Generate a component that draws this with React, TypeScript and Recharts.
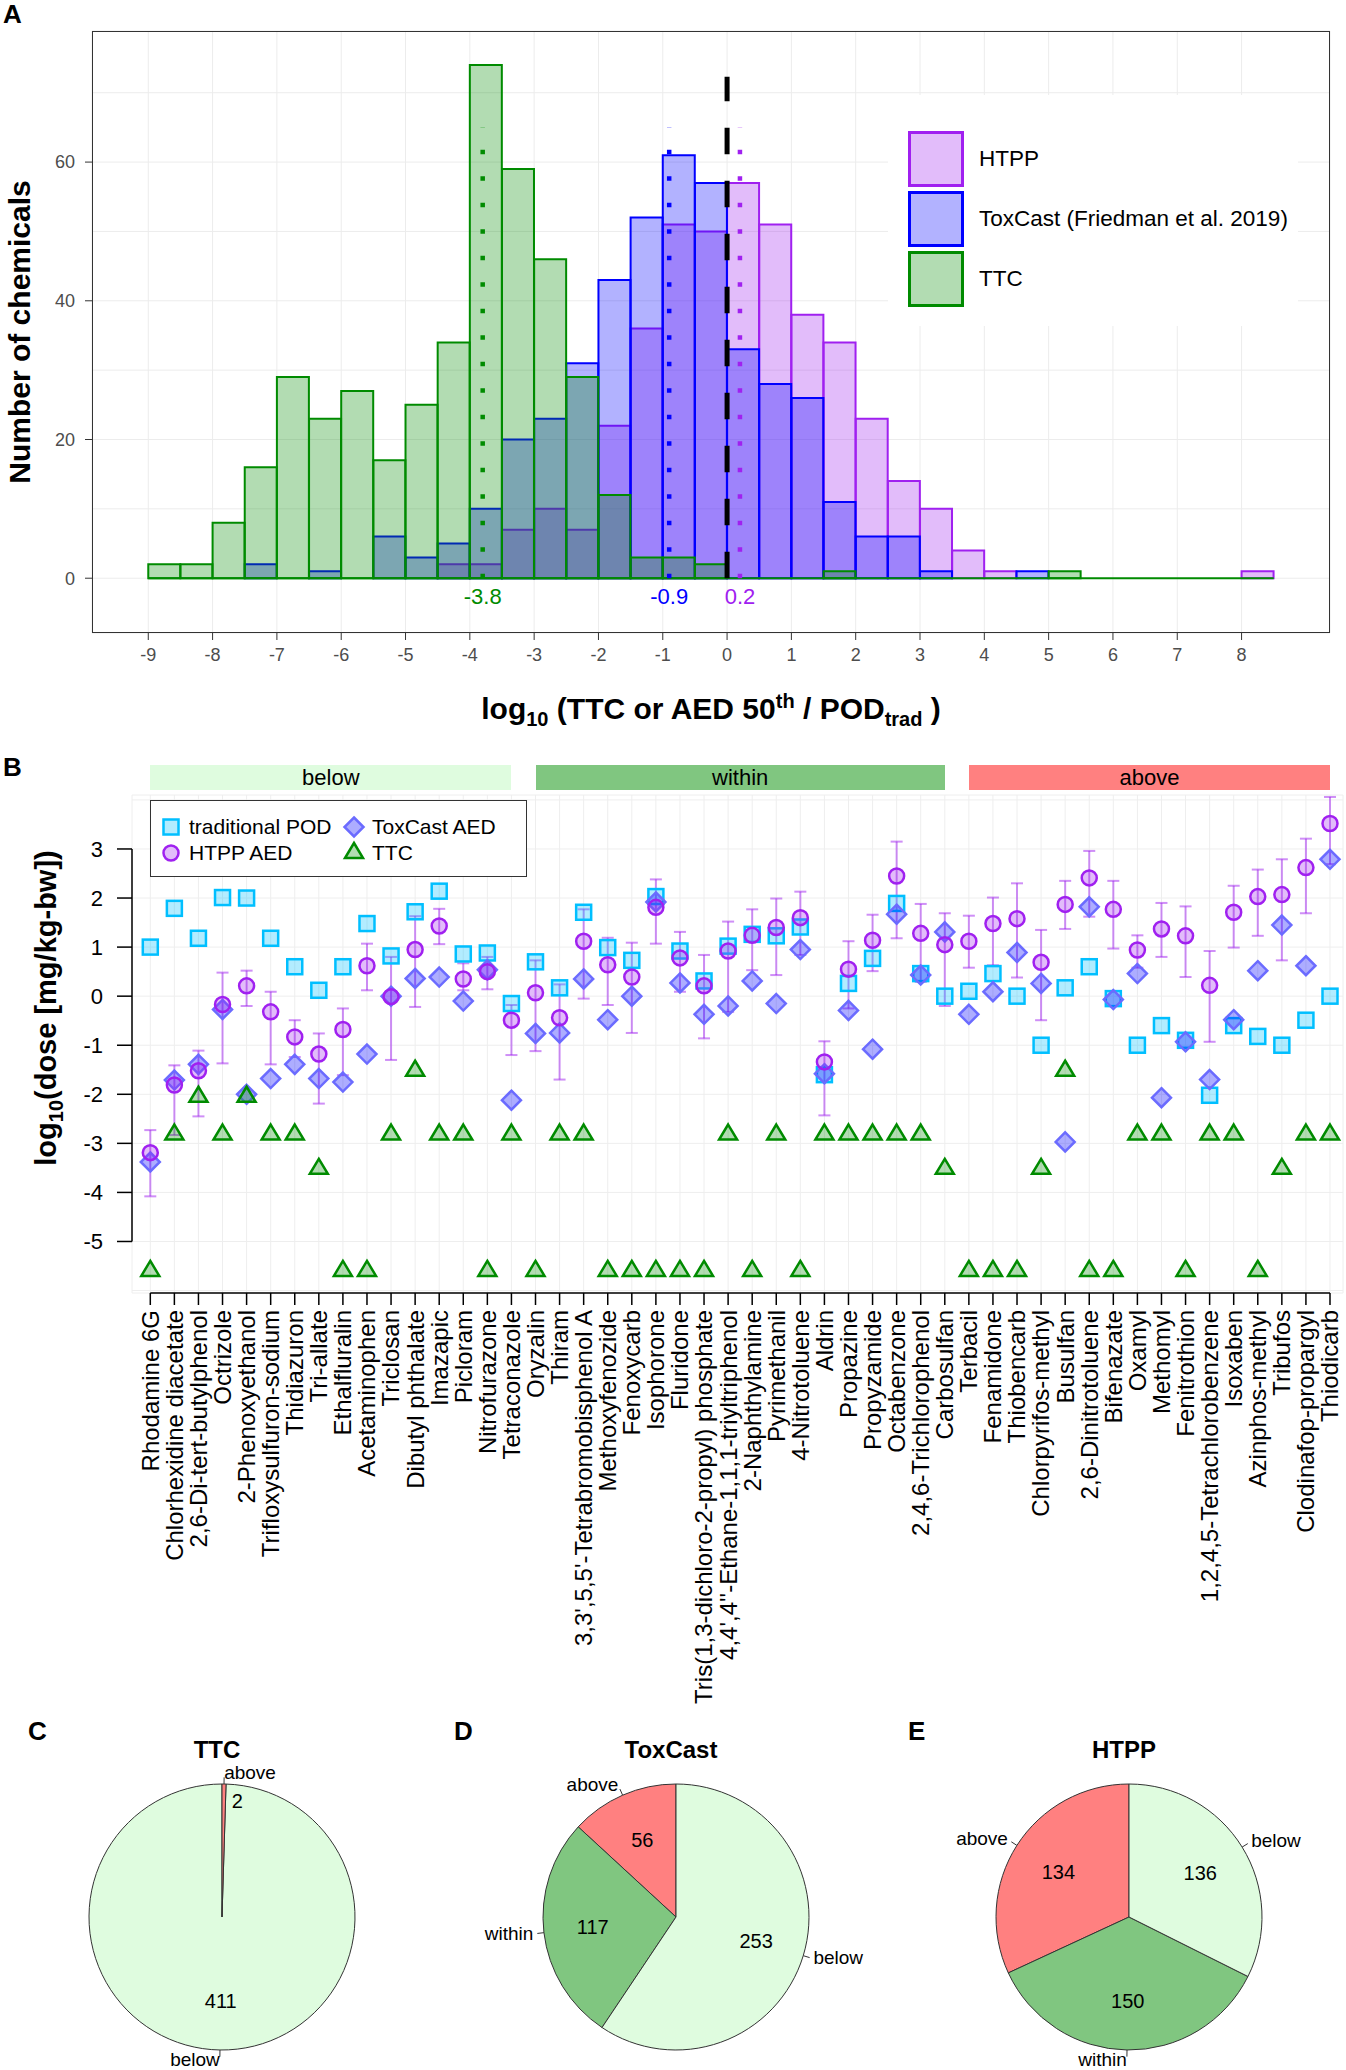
import React from 'react';
import {
  Bar, CartesianGrid, Cell, ComposedChart, ErrorBar, Pie, PieChart,
  ReferenceLine, Scatter, XAxis, YAxis,
} from 'recharts';

const FONT = '"Liberation Sans", Arial, Helvetica, sans-serif';

// ---------- panel A: histogram (bins of 0.5 log units) ----------
const binCenters = [-8.75, -8.25, -7.75, -7.25, -6.75, -6.25, -5.75, -5.25, -4.75, -4.25, -3.75, -3.25, -2.75, -2.25, -1.75, -1.25, -0.75, -0.25, 0.25, 0.75, 1.25, 1.75, 2.25, 2.75, 3.25, 3.75, 4.25, 4.75, 5.25, 5.75, 6.25, 6.75, 7.25, 7.75, 8.25];
const htppCounts = [0, 0, 0, 0, 0, 0, 0, 0, 0, 2, 2, 7, 10, 7, 22, 36, 51, 50, 57, 51, 38, 34, 23, 14, 10, 4, 1, 0, 0, 0, 0, 0, 0, 0, 1];
const toxcastCounts = [0, 0, 0, 2, 0, 1, 0, 6, 3, 5, 10, 20, 23, 31, 43, 52, 61, 57, 33, 28, 26, 11, 6, 6, 1, 0, 0, 1, 0, 0, 0, 0, 0, 0, 0];
const ttcCounts = [2, 2, 8, 16, 29, 23, 27, 17, 25, 34, 74, 59, 46, 29, 12, 3, 3, 2, 0, 0, 0, 1, 0, 0, 0, 0, 0, 0, 1, 0, 0, 0, 0, 0, 0];
const histTicksX = [-9, -8, -7, -6, -5, -4, -3, -2, -1, 0, 1, 2, 3, 4, 5, 6, 7, 8];
const histTicksY = [0, 10, 20, 30, 40, 50, 60, 70];
const medianSeries = ['ttc', 'toxcast', 'htpp'];
const medianValues = [-3.8, -0.9, 0.2];
const legendNames = ['HTPP', 'ToxCast (Friedman et al. 2019)', 'TTC'];
const legendSeries = ['htpp', 'toxcast', 'ttc'];

// ---------- panel B: doses per chemical ----------
const chemicals = [
  'Rhodamine 6G', 'Chlorhexidine diacetate', '2,6-Di-tert-butylphenol', 'Octrizole', '2-Phenoxyethanol',
  'Trifloxysulfuron-sodium', 'Thidiazuron', 'Tri-allate', 'Ethalfluralin', 'Acetaminophen',
  'Triclosan', 'Dibutyl phthalate', 'Imazapic', 'Picloram', 'Nitrofurazone',
  'Tetraconazole', 'Oryzalin', 'Thiram', "3,3',5,5'-Tetrabromobisphenol A", 'Methoxyfenozide',
  'Fenoxycarb', 'Isophorone', 'Fluridone', 'Tris(1,3-dichloro-2-propyl) phosphate', "4,4',4''-Ethane-1,1,1-triyltriphenol",
  '2-Naphthylamine', 'Pyrimethanil', '4-Nitrotoluene', 'Aldrin', 'Propazine',
  'Propyzamide', 'Octabenzone', '2,4,6-Trichlorophenol', 'Carbosulfan', 'Terbacil',
  'Fenamidone', 'Thiobencarb', 'Chlorpyrifos-methyl', 'Busulfan', '2,6-Dinitrotoluene',
  'Bifenazate', 'Oxamyl', 'Methomyl', 'Fenitrothion', '1,2,4,5-Tetrachlorobenzene',
  'Isoxaben', 'Azinphos-methyl', 'Tribufos', 'Clodinafop-propargyl', 'Thiodicarb',
];
const podValues = [1.0, 1.79, 1.18, 2.01, 2.0, 1.18, 0.6, 0.12, 0.6, 1.48, 0.82, 1.72, 2.14, 0.86, 0.88, -0.15, 0.7, 0.17, 1.71, 0.99, 0.73, 2.03, 0.92, 0.31, 1.02, 1.26, 1.23, 1.41, -1.6, 0.26, 0.77, 1.89, 0.46, 0.0, 0.1, 0.46, 0.0, -1.0, 0.17, 0.6, -0.05, -1.0, -0.6, -0.9, -2.02, -0.6, -0.82, -1.0, -0.49, 0.0];
const htppAed = [-3.19, -1.81, -1.52, -0.17, 0.21, -0.32, -0.83, -1.18, -0.68, 0.62, -0.01, 0.95, 1.43, 0.35, 0.5, -0.49, 0.07, -0.44, 1.12, 0.64, 0.39, 1.81, 0.78, 0.21, 0.92, 1.24, 1.4, 1.6, -1.34, 0.55, 1.14, 2.45, 1.28, 1.05, 1.12, 1.48, 1.58, 0.69, 1.87, 2.41, 1.77, 0.94, 1.37, 1.23, 0.22, 1.71, 2.03, 2.07, 2.62, 3.52];
const htppLow = [-4.08, -2.83, -2.45, -1.37, -0.2, -1.39, -1.24, -2.19, -1.61, 0.12, -1.3, -0.22, 1.06, 0.12, 0.14, -1.2, -1.12, -1.7, -0.05, -0.18, -0.75, 1.07, 0.09, -0.86, -0.32, 0.53, 0.43, 0.84, -2.43, -0.25, 0.51, 1.18, 0.29, -0.2, 0.58, 0.63, 0.38, -0.49, 1.37, 1.62, 0.97, 0.58, 0.8, 0.39, -0.93, 0.99, 1.23, 0.73, 1.69, 2.69];
const htppHigh = [-2.73, -1.41, -1.11, 0.48, 0.52, 0.09, -0.49, -0.76, -0.25, 1.07, 0.8, 1.63, 1.78, 0.67, 0.8, -0.18, 0.73, 0.24, 1.77, 1.19, 1.09, 2.38, 1.31, 0.84, 1.52, 1.77, 1.99, 2.13, -0.92, 1.12, 1.66, 3.15, 1.88, 1.69, 1.64, 2.01, 2.3, 1.35, 2.35, 2.96, 2.35, 1.24, 1.9, 1.83, 0.92, 2.25, 2.58, 2.79, 3.21, 4.06];
const toxcastAed = [-3.38, -1.71, -1.39, -0.27, -2.0, -1.68, -1.39, -1.68, -1.75, -1.18, 0.0, 0.36, 0.39, -0.1, 0.54, -2.12, -0.76, -0.75, 0.35, -0.48, 0.0, 1.92, 0.27, -0.37, -0.2, 0.31, -0.15, 0.95, -1.58, -0.29, -1.08, 1.67, 0.43, 1.31, -0.37, 0.09, 0.89, 0.26, -2.97, 1.82, -0.07, 0.46, -2.07, -0.93, -1.7, -0.48, 0.52, 1.45, 0.62, 2.79];
const ttcValues = [-5.6, -2.82, -2.05, -2.82, -2.05, -2.82, -2.82, -3.52, -5.6, -5.6, -2.82, -1.52, -2.82, -2.82, -5.6, -2.82, -5.6, -2.82, -2.82, -5.6, -5.6, -5.6, -5.6, -5.6, -2.82, -5.6, -2.82, -5.6, -2.82, -2.82, -2.82, -2.82, -2.82, -3.52, -5.6, -5.6, -5.6, -3.52, -1.52, -5.6, -5.6, -2.82, -2.82, -5.6, -2.82, -2.82, -5.6, -3.52, -2.82, -2.82];
const groupLabels = ['below', 'within', 'above'];
const groupSizes = [16, 18, 16];
const doseTicksY = [-6, -5, -4, -3, -2, -1, 0, 1, 2, 3, 4];

// ---------- panels C-E: pies ----------
const pieLetters = ['C', 'D', 'E'];
const pieTitles = ['TTC', 'ToxCast', 'HTPP'];
const ttcPie = [{ name: 'below', value: 411 }, { name: 'above', value: 2 }];
const toxcastPie = [{ name: 'above', value: 56 }, { name: 'within', value: 117 }, { name: 'below', value: 253 }];
const htppPie = [{ name: 'above', value: 134 }, { name: 'within', value: 150 }, { name: 'below', value: 136 }];

const COL: Record<string, string> = { htpp: '#A020F0', toxcast: '#0000FF', ttc: '#008B00', pod: '#00BFFF' };
const GROUP_FILL: Record<string, string> = { below: '#DFFCDF', within: '#80C680', above: '#FF8080' };

const HistYTick = (p: any) => {
  const v = p.payload.value;
  if (v % 20 !== 0) return null;
  return (
    <g>
      <line x1={p.x + 10} x2={p.x + 17} y1={p.y} y2={p.y} stroke="#333" />
      <text x={p.x} y={p.y} dy="0.35em" textAnchor="end" fontSize={18} fill="#4d4d4d">{v}</text>
    </g>
  );
};

function HistogramPanel() {
  const rows = binCenters.map((x, i) => ({ x, htpp: htppCounts[i], toxcast: toxcastCounts[i], ttc: ttcCounts[i] }));
  const dom: [number, number] = [-9.875, 9.375];
  const lo = binCenters[0] - 0.25;
  const hi = binCenters[binCenters.length - 1] + 0.25;
  return (
    <div style={{ position: 'absolute', left: 0, top: 0 }}>
      <ComposedChart width={1346} height={760} data={rows} margin={{ top: 31, right: 16, bottom: 87, left: 42 }} barCategoryGap={0} barGap={0}>
        <CartesianGrid xAxisId="h" stroke="#ececec" />
        <XAxis xAxisId="h" dataKey="x" type="number" domain={dom} allowDataOverflow ticks={histTicksX} interval={0}
          height={40} tickSize={7} tickMargin={8} axisLine={false} tickLine={{ stroke: '#333' }}
          tick={{ fill: '#4d4d4d', fontSize: 18 }} />
        <XAxis xAxisId="t" dataKey="x" type="number" domain={dom} allowDataOverflow hide height={0} />
        <XAxis xAxisId="c" dataKey="x" type="number" domain={dom} allowDataOverflow hide height={0} />
        <YAxis type="number" domain={[-7.9, 78.9]} allowDataOverflow ticks={histTicksY} interval={0} width={50}
          tickSize={7} tickMargin={10} axisLine={false} tickLine={false} tick={(p: any) => <HistYTick {...p} />} />
        <Bar xAxisId="h" dataKey="htpp" fill={COL.htpp} fillOpacity={0.3} stroke={COL.htpp} strokeWidth={2} isAnimationActive={false} />
        <Bar xAxisId="t" dataKey="toxcast" fill={COL.toxcast} fillOpacity={0.3} stroke={COL.toxcast} strokeWidth={2} isAnimationActive={false} />
        <Bar xAxisId="c" dataKey="ttc" fill={COL.ttc} fillOpacity={0.3} stroke={COL.ttc} strokeWidth={2} isAnimationActive={false} />
        <ReferenceLine xAxisId="c" segment={[{ x: lo, y: 0 }, { x: hi, y: 0 }]} stroke={COL.ttc} strokeWidth={2} ifOverflow="visible" />
        {medianValues.map((m, i) => (
          <ReferenceLine key={medianSeries[i]} xAxisId="h" segment={[{ x: m, y: 0 }, { x: m, y: 65 }]}
            stroke={COL[medianSeries[i]]} strokeWidth={4.5} strokeDasharray="4.5 22"
            label={{ value: String(m), position: 'bottom', offset: 10, fill: COL[medianSeries[i]], fontSize: 22 }} />
        ))}
        <ReferenceLine xAxisId="h" segment={[{ x: 0, y: 0 }, { x: 0, y: 72.3 }]} stroke="#000" strokeWidth={5} strokeDasharray="26.5 26.5" />
      </ComposedChart>
      <div style={{ position: 'absolute', left: 92, top: 31, width: 1238, height: 602, border: '1.5px solid #333', boxSizing: 'border-box', pointerEvents: 'none' }} />
      <div style={{ position: 'absolute', left: 888, top: 95, width: 410, height: 231, background: '#fff' }}>
        {legendSeries.map((s, i) => (
          <div key={s}>
            <div style={{ position: 'absolute', left: 20, top: 36 + i * 60, width: 56, height: 56, boxSizing: 'border-box', border: `3px solid ${COL[s]}`, background: COL[s] + '4D' }} />
            <div style={{ position: 'absolute', left: 91, top: 36 + i * 60, height: 56, lineHeight: '56px', fontSize: 22.5, whiteSpace: 'nowrap' }}>{legendNames[i]}</div>
          </div>
        ))}
      </div>
      <div style={{ position: 'absolute', left: 3, top: 1, fontSize: 26, lineHeight: '26px', fontWeight: 'bold' }}>A</div>
      <div style={{ position: 'absolute', left: 92, width: 1238, top: 690, textAlign: 'center', fontSize: 30, fontWeight: 'bold', whiteSpace: 'nowrap' }}>
        log<sub style={{ fontSize: 20 }}>10</sub> (TTC or AED 50<sup style={{ fontSize: 20 }}>th</sup> / POD<sub style={{ fontSize: 20 }}>trad</sub> )
      </div>
      <div style={{ position: 'absolute', left: 20, top: 332, transform: 'translate(-50%, -50%) rotate(-90deg)', fontSize: 30, fontWeight: 'bold', whiteSpace: 'nowrap' }}>
        Number of chemicals
      </div>
    </div>
  );
}

// B geometry
const B_TOP = 700;
const B_LEFT = 132;
const B_WIDTH = 1211;
const B_DOM: [number, number] = [0.24, 50.54];
const bPx = (v: number) => B_LEFT + (v - B_DOM[0]) * B_WIDTH / (B_DOM[1] - B_DOM[0]);

const DoseYTick = (p: any) => {
  const v = p.payload.value;
  if (v < -5 || v > 3) return null;
  return (
    <g>
      <line x1={p.x + 14} x2={p.x + 29} y1={p.y} y2={p.y} stroke="#000" strokeWidth={1.5} />
      <text x={p.x} y={p.y} dy="0.35em" textAnchor="end" fontSize={22} fill="#000">{v}</text>
    </g>
  );
};

const DoseXTick = (p: any) => {
  const name = chemicals[p.payload.value - 1];
  return (
    <g>
      <line x1={p.x} x2={p.x} y1={p.y - 17} y2={p.y - 5} stroke="#000" strokeWidth={1.5} />
      <text x={p.x} y={p.y} dy="0.35em" textAnchor="end" fontSize={24} fill="#000" transform={`rotate(-90 ${p.x} ${p.y})`}>{name}</text>
    </g>
  );
};

const squareShape = (p: any) => (
  <rect x={p.cx - 7.5} y={p.cy - 7.5} width={15} height={15} fill={COL.pod} fillOpacity={0.3} stroke={COL.pod} strokeWidth={2.5} />
);
const circleShape = (p: any) => (
  <circle cx={p.cx} cy={p.cy} r={7.5} fill={COL.htpp} fillOpacity={0.3} stroke={COL.htpp} strokeWidth={2.5} />
);
const diamondShape = (p: any) => (
  <path d={`M${p.cx},${p.cy - 9.5}L${p.cx + 9.5},${p.cy}L${p.cx},${p.cy + 9.5}L${p.cx - 9.5},${p.cy}Z`} fill={COL.toxcast} fillOpacity={0.32} stroke="#6b6bff" strokeWidth={2.5} />
);
const triangleShape = (p: any) => (
  <path d={`M${p.cx},${p.cy - 10}L${p.cx + 9},${p.cy + 5}L${p.cx - 9},${p.cy + 5}Z`} fill={COL.ttc} fillOpacity={0.3} stroke={COL.ttc} strokeWidth={2.5} strokeLinejoin="miter" />
);

function DosePanel() {
  const rows = chemicals.map((name, i) => ({
    idx: i + 1,
    name,
    pod: podValues[i],
    htpp: htppAed[i],
    htppErr: [htppAed[i] - htppLow[i], htppHigh[i] - htppAed[i]],
    toxcast: toxcastAed[i],
    ttc: ttcValues[i],
  }));
  const idxTicks = chemicals.map((_, i) => i + 1);
  let start = 1;
  const strips = groupLabels.map((g, i) => {
    const first = start;
    const last = start + groupSizes[i] - 1;
    start = last + 1;
    return { g, left: bPx(first), right: bPx(last) };
  });
  const marker = (kind: string) => {
    const shapes: Record<string, any> = { pod: squareShape, htpp: circleShape, toxcast: diamondShape, ttc: triangleShape };
    return <svg width={26} height={26} style={{ position: 'absolute', left: -13, top: -13 }}>{shapes[kind]({ cx: 13, cy: 13 })}</svg>;
  };
  const legendItems = [
    { kind: 'pod', text: 'traditional POD', x: 20, y: 26 },
    { kind: 'htpp', text: 'HTPP AED', x: 20, y: 52 },
    { kind: 'toxcast', text: 'ToxCast AED', x: 203, y: 26 },
    { kind: 'ttc', text: 'TTC', x: 203, y: 52 },
  ];
  return (
    <div style={{ position: 'absolute', left: 0, top: B_TOP }}>
      <ComposedChart width={1346} height={1060} data={rows} margin={{ top: 95, right: 3, bottom: 7, left: 72 }}>
        <CartesianGrid stroke="#eeeeee" />
        <XAxis dataKey="idx" type="number" domain={B_DOM} allowDataOverflow ticks={idxTicks} interval={0} height={460}
          tickSize={12} tickMargin={5} axisLine={false} tickLine={false} tick={(p: any) => <DoseXTick {...p} />} />
        <YAxis type="number" domain={[-6.05, 4.1]} allowDataOverflow ticks={doseTicksY} interval={0} width={60}
          tickSize={15} tickMargin={14} axisLine={false} tickLine={false} tick={(p: any) => <DoseYTick {...p} />} />
        <ReferenceLine segment={[{ x: B_DOM[0], y: -5 }, { x: B_DOM[0], y: 3 }]} stroke="#000" strokeWidth={1.5} ifOverflow="visible" />
        <ReferenceLine segment={[{ x: 1, y: -6.05 }, { x: chemicals.length, y: -6.05 }]} stroke="#000" strokeWidth={1.5} ifOverflow="visible" />
        <Scatter dataKey="pod" shape={squareShape} isAnimationActive={false} />
        <Scatter dataKey="toxcast" shape={diamondShape} isAnimationActive={false} />
        <Scatter dataKey="htpp" shape={circleShape} isAnimationActive={false}>
          <ErrorBar dataKey="htppErr" direction="y" width={6} stroke={COL.htpp} strokeOpacity={0.5} strokeWidth={2} />
        </Scatter>
        <Scatter dataKey="ttc" shape={triangleShape} isAnimationActive={false} />
      </ComposedChart>
      {strips.map((s) => (
        <div key={s.g} style={{ position: 'absolute', left: s.left, top: 65, width: s.right - s.left, height: 25, background: GROUP_FILL[s.g], textAlign: 'center', lineHeight: '25px', fontSize: 22 }}>{s.g}</div>
      ))}
      <div style={{ position: 'absolute', left: 150, top: 100, width: 377, height: 77, border: '1.5px solid #333', boxSizing: 'border-box', background: '#fff' }}>
        {legendItems.map((it) => (
          <div key={it.kind}>
            <div style={{ position: 'absolute', left: it.x, top: it.y }}>{marker(it.kind)}</div>
            <div style={{ position: 'absolute', left: it.x + 18, top: it.y - 13, height: 26, lineHeight: '26px', fontSize: 21, whiteSpace: 'nowrap' }}>{it.text}</div>
          </div>
        ))}
      </div>
      <div style={{ position: 'absolute', left: 3, top: 54, fontSize: 26, lineHeight: '26px', fontWeight: 'bold' }}>B</div>
      <div style={{ position: 'absolute', left: 49, top: 308, transform: 'translate(-50%, -50%) rotate(-90deg)', fontSize: 29, fontWeight: 'bold', whiteSpace: 'nowrap' }}>
        log<sub style={{ fontSize: 20 }}>10</sub>(dose [mg/kg-bw])
      </div>
    </div>
  );
}

const RAD = Math.PI / 180;
const renderPieLabel = (p: any) => {
  const a = -p.midAngle * RAD;
  const small = p.percent < 0.05;
  const rIn = p.outerRadius * (small ? 0.87 : 0.63);
  const xi = p.cx + rIn * Math.cos(a) + (small ? 8 : 0);
  const yi = p.cy + rIn * Math.sin(a);
  const x1 = p.cx + p.outerRadius * Math.cos(a);
  const y1 = p.cy + p.outerRadius * Math.sin(a);
  const x2 = p.cx + p.outerRadius * 1.05 * Math.cos(a);
  const y2 = p.cy + p.outerRadius * 1.05 * Math.sin(a);
  const xo = p.cx + p.outerRadius * 1.08 * Math.cos(a);
  const yo = p.cy + p.outerRadius * 1.08 * Math.sin(a);
  return (
    <g>
      <text x={xi} y={yi} dy="0.35em" textAnchor={small ? 'start' : 'middle'} fontSize={20} fill="#000">{p.value}</text>
      <line x1={x1} y1={y1} x2={x2} y2={y2} stroke="#333" strokeWidth={1} />
      <text x={xo} y={yo} dy="0.3em" textAnchor={Math.cos(a) >= 0 ? 'start' : 'end'} fontSize={19} fill="#000">{p.name}</text>
    </g>
  );
};

function PiePanels() {
  const pies = [ttcPie, toxcastPie, htppPie];
  const centers = [217, 671, 1124];
  return (
    <>
      {pies.map((d, k) => (
        <div key={pieTitles[k]}>
          <div style={{ position: 'absolute', left: centers[k] - 200, top: 1746 }}>
            <PieChart width={400} height={324}>
              <Pie data={d} dataKey="value" nameKey="name" cx={200} cy={166} outerRadius={133} startAngle={90} endAngle={450}
                stroke="#333" strokeWidth={1} label={renderPieLabel} labelLine={false} isAnimationActive={false}>
                {d.map((e) => <Cell key={e.name} fill={GROUP_FILL[e.name]} />)}
              </Pie>
            </PieChart>
          </div>
          <div style={{ position: 'absolute', left: centers[k] - 100, width: 200, top: 1736, textAlign: 'center', fontSize: 24, fontWeight: 'bold' }}>{pieTitles[k]}</div>
          <div style={{ position: 'absolute', left: [28, 454, 908][k], top: 1718, fontSize: 26, lineHeight: '26px', fontWeight: 'bold' }}>{pieLetters[k]}</div>
        </div>
      ))}
    </>
  );
}

export default function App() {
  return (
    <div style={{ position: 'absolute', left: 0, top: 0, width: 1346, height: 2070, background: '#fff', fontFamily: FONT, overflow: 'hidden' }}>
      <HistogramPanel />
      <DosePanel />
      <PiePanels />
    </div>
  );
}
